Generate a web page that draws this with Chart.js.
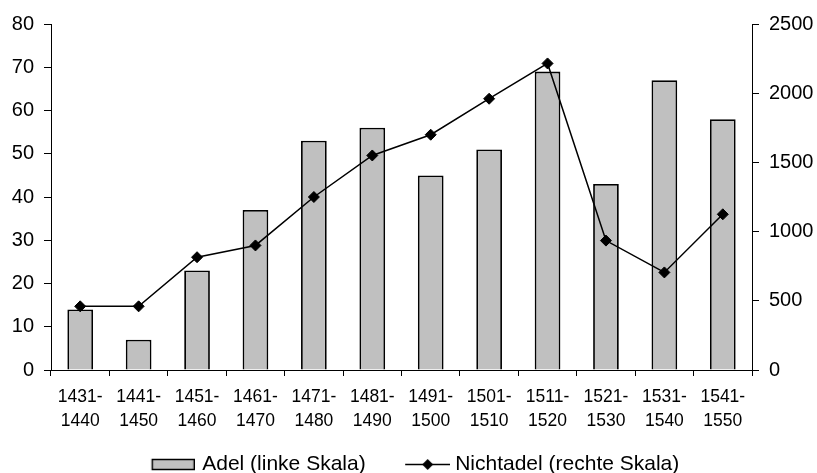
<!DOCTYPE html>
<html>
<head>
<meta charset="utf-8">
<title>Adel und Nichtadel 1431–1550</title>
<script src="https://cdn.jsdelivr.net/npm/chart.js@4/dist/chart.umd.min.js"></script>
<style>
  html, body { margin: 0; padding: 0; background: #fff; }
  canvas { display: block; }
</style>
</head>
<body>
<canvas id="chart" width="817" height="473"></canvas>
<script>
// Decades on the category axis (two-line labels)
const periods = [
  ['1431-', '1440'], ['1441-', '1450'], ['1451-', '1460'], ['1461-', '1470'],
  ['1471-', '1480'], ['1481-', '1490'], ['1491-', '1500'], ['1501-', '1510'],
  ['1511-', '1520'], ['1521-', '1530'], ['1531-', '1540'], ['1541-', '1550']
];

// Adel, read against the left axis
const adel = [14, 7, 23, 37, 53, 56, 45, 51, 69, 43, 67, 58];

// Nichtadel, read against the right axis
const nichtadel = [460, 460, 815, 900, 1250, 1550, 1700, 1960, 2215, 935, 705, 1125];

const seriesNames = ['Adel (linke Skala)', 'Nichtadel (rechte Skala)'];

// Axis ranges and tick steps
const leftAxis = { min: 0, max: 80, step: 10 };
const rightAxis = { min: 0, max: 2500, step: 500 };

const FONT = '"Liberation Sans", Arial, Helvetica, sans-serif';
const BAR_FILL = '#c0c0c0';

// Legend swatches: a grey box for the bars, a line with a diamond for the line series
function barSwatch() {
  const c = document.createElement('canvas');
  c.width = 60; c.height = 13;
  const g = c.getContext('2d');
  g.fillStyle = BAR_FILL;
  g.fillRect(17.5, 1.5, 42, 10);
  g.strokeStyle = '#000';
  g.lineWidth = 1.5;
  g.strokeRect(17.5, 1.5, 42, 10);
  return c;
}

function lineSwatch() {
  const c = document.createElement('canvas');
  c.width = 65; c.height = 13;
  const g = c.getContext('2d');
  g.strokeStyle = '#000';
  g.lineWidth = 1.5;
  g.beginPath();
  g.moveTo(20, 6.5);
  g.lineTo(65, 6.5);
  g.stroke();
  g.fillStyle = '#000';
  g.beginPath();
  g.moveTo(42.5 - 5.5, 6.5);
  g.lineTo(42.5, 1);
  g.lineTo(42.5 + 5.5, 6.5);
  g.lineTo(42.5, 12);
  g.closePath();
  g.fill();
  return c;
}

const swatches = [barSwatch(), lineSwatch()];

Chart.defaults.font.family = FONT;
Chart.defaults.color = '#000';

// Plain integers on the value axes (no thousands separator)
const plainNumber = v => String(v);

new Chart(document.getElementById('chart'), {
  data: {
    labels: periods,
    datasets: [
      {
        type: 'bar',
        label: seriesNames[0],
        data: adel,
        yAxisID: 'yLeft',
        backgroundColor: BAR_FILL,
        borderColor: '#000',
        borderWidth: 1.8,
        barPercentage: 0.44,
        categoryPercentage: 1,
        order: 1
      },
      {
        type: 'line',
        label: seriesNames[1],
        data: nichtadel,
        yAxisID: 'yRight',
        borderColor: '#000',
        backgroundColor: '#000',
        borderWidth: 1.5,
        tension: 0,
        pointStyle: 'rectRot',
        pointRadius: 5.5,
        pointBorderWidth: 1,
        pointBackgroundColor: '#000',
        pointBorderColor: '#000',
        order: 0
      }
    ]
  },
  options: {
    responsive: false,
    animation: false,
    layout: { padding: { top: 24, left: 0, right: 0, bottom: 0 } },
    plugins: {
      tooltip: { enabled: false },
      legend: {
        position: 'bottom',
        maxHeight: 44,
        labels: {
          usePointStyle: true,
          pointStyleWidth: 54,
          padding: 25,
          color: '#000',
          font: { size: 21, family: FONT },
          sort: (a, b) => a.datasetIndex - b.datasetIndex,
          generateLabels: chart => {
            const items = Chart.defaults.plugins.legend.labels.generateLabels(chart);
            items.forEach(it => { it.pointStyle = swatches[it.datasetIndex]; });
            return items;
          }
        }
      }
    },
    scales: {
      x: {
        offset: true,
        afterFit: s => { s.height = 59; },
        grid: {
          offset: true,
          drawOnChartArea: false,
          drawTicks: true,
          tickLength: 6,
          color: '#000',
          lineWidth: 1
        },
        border: { display: true, color: '#000', width: 1 },
        ticks: {
          autoSkip: false,
          maxRotation: 0,
          minRotation: 0,
          padding: 9,
          color: '#000',
          font: { size: 17.5, family: FONT, lineHeight: 1.37 }
        }
      },
      yLeft: {
        type: 'linear',
        position: 'left',
        min: leftAxis.min,
        max: leftAxis.max,
        afterFit: s => { s.width = 51; },
        grid: {
          drawOnChartArea: false,
          drawTicks: true,
          tickLength: 7,
          color: '#000'
        },
        border: { display: true, color: '#000', width: 1 },
        ticks: {
          stepSize: leftAxis.step,
          padding: 10,
          color: '#000',
          font: { size: 20, family: FONT },
          callback: plainNumber
        }
      },
      yRight: {
        type: 'linear',
        position: 'right',
        min: rightAxis.min,
        max: rightAxis.max,
        afterFit: s => { s.width = 65; },
        grid: {
          drawOnChartArea: false,
          drawTicks: true,
          tickLength: 7,
          color: '#000'
        },
        border: { display: true, color: '#000', width: 1 },
        ticks: {
          stepSize: rightAxis.step,
          padding: 10,
          color: '#000',
          font: { size: 20, family: FONT },
          callback: plainNumber
        }
      }
    }
  }
});
</script>
</body>
</html>
